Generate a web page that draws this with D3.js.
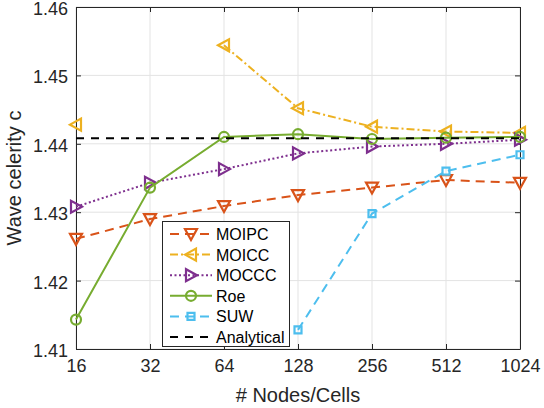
<!DOCTYPE html>
<html>
<head>
<meta charset="utf-8">
<script src="https://cdn.jsdelivr.net/npm/d3@7"></script>
<style>
  body { margin: 0; background: #fff; }
  svg { display: block; font-family: "Liberation Sans", Arial, Helvetica, sans-serif; }
  .grid line { stroke: #e3e3e3; stroke-width: 1; }
  .axis path, .axis line { stroke: #262626; stroke-width: 1; }
  .axis text { fill: #262626; font-size: 18px; }
</style>
</head>
<body>
<div id="main"></div>
<script>
// data
var nodes = [16, 32, 64, 128, 256, 512, 1024];
var moipc = [1.4261, 1.4290, 1.4309, 1.4325, 1.4336, 1.4347, 1.4343];
var moicc = [1.4428, null, 1.4544, 1.4452, 1.4425, 1.4418, 1.4416];
var moccc = [1.4308, 1.4343, 1.4363, 1.4386, 1.4396, 1.4400, 1.4406];
var roe = [1.4143, 1.4336, 1.4410, 1.4414, 1.4407, 1.4409, 1.4410];
var suw = [null, null, null, 1.4128, 1.4298, 1.4360, 1.4384];
var analytical = [1.4408, 1.4408, 1.4408, 1.4408, 1.4408, 1.4408, 1.4408];
var yTicks = [1.41, 1.42, 1.43, 1.44, 1.45, 1.46];

var series = [
  {name: "MOIPC", values: moipc, color: "#D95319", dash: "9,6", marker: "down"},
  {name: "MOICC", values: moicc, color: "#EDB120", dash: "8,3,2,3", marker: "left"},
  {name: "MOCCC", values: moccc, color: "#7E2F8E", dash: "2,2.5", marker: "right"},
  {name: "Roe", values: roe, color: "#77AC30", dash: null, marker: "circle"},
  {name: "SUW", values: suw, color: "#4DBEEE", dash: "9,6", marker: "square"},
  {name: "Analytical", values: analytical, color: "#000000", dash: "8,7", marker: null}
];

var W = 544, H = 408;
var pL = 76, pR = 520, pT = 7, pB = 349;

var svg = d3.select("#main").append("svg")
  .attr("width", W)
  .attr("height", H);

var x = d3.scaleLog().base(2).domain([16, 1024]).range([pL, pR]);
var y = d3.scaleLinear().domain([1.41, 1.46]).range([pB, pT]);

// grid
var grid = svg.append("g").attr("class", "grid");
grid.selectAll(".gx").data(nodes).enter().append("line")
  .attr("x1", d => x(d)).attr("x2", d => x(d))
  .attr("y1", pT).attr("y2", pB);
grid.selectAll(".gy").data(yTicks).enter().append("line")
  .attr("x1", pL).attr("x2", pR)
  .attr("y1", d => y(d)).attr("y2", d => y(d));

// axes, ticks pointing inward like matlab
svg.append("g").attr("class", "axis")
  .attr("transform", "translate(0," + pB + ")")
  .call(d3.axisBottom(x).tickValues(nodes).tickFormat(d3.format("d"))
    .tickSizeInner(-5).tickSizeOuter(0).tickPadding(10));
svg.append("g").attr("class", "axis")
  .attr("transform", "translate(0," + pT + ")")
  .call(d3.axisTop(x).tickValues(nodes).tickFormat("")
    .tickSizeInner(-5).tickSizeOuter(0));
svg.append("g").attr("class", "axis")
  .attr("transform", "translate(" + pL + ",0)")
  .call(d3.axisLeft(y).tickValues(yTicks).tickFormat(d3.format(".2f"))
    .tickSizeInner(-5).tickSizeOuter(0).tickPadding(8))
  .selectAll("text").attr("dy", "0.42em");
svg.append("g").attr("class", "axis")
  .attr("transform", "translate(" + pR + ",0)")
  .call(d3.axisRight(y).tickValues(yTicks).tickFormat("")
    .tickSizeInner(-5).tickSizeOuter(0));

// axis titles
svg.append("text")
  .attr("x", (pL + pR) / 2)
  .attr("y", 402)
  .attr("text-anchor", "middle")
  .style("font-size", "20px")
  .style("fill", "#262626")
  .text("# Nodes/Cells");
svg.append("text")
  .attr("transform", "translate(21," + (pT + pB) / 2 + ") rotate(-90)")
  .attr("text-anchor", "middle")
  .style("font-size", "20px")
  .style("fill", "#262626")
  .text("Wave celerity c");

// marker shapes
function markerPath(type) {
  if (type == "down") return "M-6,-5L6,-5L0,6Z";
  if (type == "left") return "M-6,0L5,-6L5,6Z";
  if (type == "right") return "M6,0L-5,-6L-5,6Z";
  if (type == "square") return "M-3.5,-3.5L3.5,-3.5L3.5,3.5L-3.5,3.5Z";
  return null;
}

function drawMarker(g, s, cx, cy) {
  if (!s.marker) return;
  if (s.marker == "circle") {
    g.append("circle")
      .attr("cx", cx).attr("cy", cy).attr("r", 5)
      .attr("fill", "none")
      .attr("stroke", s.color)
      .attr("stroke-width", 2.2);
  } else {
    g.append("path")
      .attr("d", markerPath(s.marker))
      .attr("transform", "translate(" + cx + "," + cy + ")")
      .attr("fill", "none")
      .attr("stroke", s.color)
      .attr("stroke-width", 2.2)
      .attr("stroke-linejoin", "miter");
  }
}

var line = d3.line()
  .defined(d => d[1] != null)
  .x(d => x(d[0]))
  .y(d => y(d[1]));

var plot = svg.append("g");
series.forEach(function(s) {
  var pts = nodes.map((n, i) => [n, s.values[i]]);
  var g = plot.append("g");
  g.append("path")
    .datum(pts)
    .attr("d", line)
    .attr("fill", "none")
    .attr("stroke", s.color)
    .attr("stroke-width", 2)
    .attr("stroke-dasharray", s.dash);
  pts.forEach(function(p) {
    if (p[1] != null) drawMarker(g, s, x(p[0]), y(p[1]));
  });
});

// legend
var lg = svg.append("g");
lg.append("rect")
  .attr("x", 162.5).attr("y", 221.5)
  .attr("width", 127).attr("height", 125)
  .attr("fill", "#fff")
  .attr("stroke", "#262626")
  .attr("stroke-width", 1);
series.forEach(function(s, i) {
  var ly = 234 + i * 20.6;
  lg.append("line")
    .attr("x1", 170).attr("x2", 212)
    .attr("y1", ly).attr("y2", ly)
    .attr("stroke", s.color)
    .attr("stroke-width", 2)
    .attr("stroke-dasharray", s.dash);
  drawMarker(lg, s, 191, ly);
  lg.append("text")
    .attr("x", 216).attr("y", ly + 6)
    .style("font-size", "16px")
    .style("fill", "#000")
    .text(s.name);
});
</script>
</body>
</html>
